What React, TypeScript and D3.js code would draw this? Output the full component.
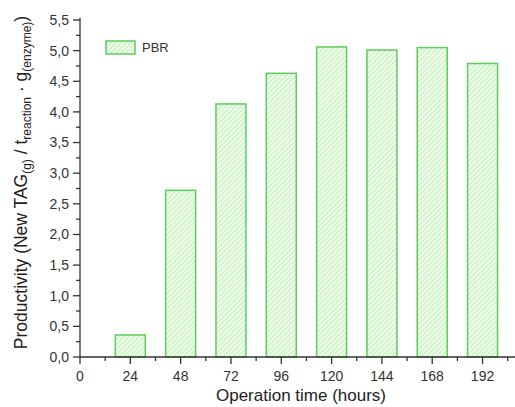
import React, { useEffect, useRef } from "react";
import * as d3 from "d3";

// Productivity per operation time (PBR)
const hours = [24, 48, 72, 96, 120, 144, 168, 192];
const productivity = [0.36, 2.72, 4.13, 4.63, 5.06, 5.01, 5.05, 4.79];
const xTicks = [0, 24, 48, 72, 96, 120, 144, 168, 192];
const yTicks = [0, 0.5, 1, 1.5, 2, 2.5, 3, 3.5, 4, 4.5, 5, 5.5];
const seriesName = "PBR";

const App = () => {
  const ref = useRef<SVGSVGElement | null>(null);

  useEffect(() => {
    const svg = d3.select(ref.current);
    svg.selectAll("*").remove();

    const left = 80, top = 20, bottom = 357, right = 514;
    const x = d3.scaleLinear().domain([0, 207]).range([left, right]);
    const y = d3.scaleLinear().domain([0, 5.5]).range([bottom, top]);
    const barW = x(14.3) - x(0);
    const green = "#5ccc5c";
    const axisCol = "#333";

    const defs = svg.append("defs");
    const pat = defs.append("pattern")
      .attr("id", "hatch")
      .attr("patternUnits", "userSpaceOnUse")
      .attr("width", 3.5)
      .attr("height", 3.5)
      .attr("patternTransform", "rotate(45)");
    pat.append("rect").attr("width", 3.5).attr("height", 3.5).attr("fill", "#ecfce8");
    pat.append("line")
      .attr("x1", 0).attr("y1", 0).attr("x2", 0).attr("y2", 3.5)
      .attr("stroke", "#b4eaa8").attr("stroke-width", 1.4);

    // bars
    svg.append("g")
      .selectAll("rect")
      .data(hours)
      .join("rect")
      .attr("x", (d) => x(d) - barW / 2)
      .attr("y", (d, i) => y(productivity[i]))
      .attr("width", barW)
      .attr("height", (d, i) => y(0) - y(productivity[i]))
      .attr("fill", "url(#hatch)")
      .attr("stroke", green)
      .attr("stroke-width", 1.5);

    // axes
    const g = svg.append("g").attr("stroke", axisCol).attr("stroke-width", 1.3);
    g.append("line").attr("x1", left).attr("x2", left).attr("y1", top - 2).attr("y2", bottom);
    g.append("line").attr("x1", left).attr("x2", right + 2).attr("y1", bottom).attr("y2", bottom);

    yTicks.forEach((t) => {
      g.append("line").attr("x1", left - 7).attr("x2", left).attr("y1", y(t)).attr("y2", y(t));
      if (t < 5.5) {
        g.append("line").attr("x1", left - 4).attr("x2", left)
          .attr("y1", y(t + 0.25)).attr("y2", y(t + 0.25));
      }
    });
    xTicks.forEach((t) => {
      g.append("line").attr("x1", x(t)).attr("x2", x(t)).attr("y1", bottom).attr("y2", bottom + 7);
      g.append("line").attr("x1", x(t + 12)).attr("x2", x(t + 12)).attr("y1", bottom).attr("y2", bottom + 4);
    });

    const font = "'Liberation Sans', Arial, sans-serif";
    svg.append("g")
      .selectAll("text")
      .data(yTicks)
      .join("text")
      .attr("x", left - 11)
      .attr("y", (d) => y(d))
      .attr("dy", "0.35em")
      .attr("text-anchor", "end")
      .attr("font-family", font)
      .attr("font-size", 14)
      .attr("fill", axisCol)
      .text((d) => d3.format(".1f")(d).replace(".", ","));

    svg.append("g")
      .selectAll("text")
      .data(xTicks)
      .join("text")
      .attr("x", (d) => x(d))
      .attr("y", bottom + 24)
      .attr("text-anchor", "middle")
      .attr("font-family", font)
      .attr("font-size", 14)
      .attr("fill", axisCol)
      .text((d) => d);

    // axis titles
    svg.append("text")
      .attr("x", (left + right) / 2 + 4)
      .attr("y", 401)
      .attr("text-anchor", "middle")
      .attr("font-family", font)
      .attr("font-size", 17)
      .attr("fill", "#222")
      .text("Operation time (hours)");

    const yl = svg.append("text")
      .attr("transform", `translate(27,${(top + bottom) / 2 - 6}) rotate(-90)`)
      .attr("text-anchor", "middle")
      .attr("font-family", font)
      .attr("font-size", 17.5)
      .attr("fill", "#222");
    yl.append("tspan").text("Productivity (New TAG");
    yl.append("tspan").attr("font-size", 12).attr("dy", 4).text("(g)");
    yl.append("tspan").attr("dy", -4).text(" / t");
    yl.append("tspan").attr("font-size", 12).attr("dy", 4).text("reaction");
    yl.append("tspan").attr("dy", -4).text(" · g");
    yl.append("tspan").attr("font-size", 12).attr("dy", 4).text("(enzyme)");
    yl.append("tspan").attr("dy", -4).text(")");

    // legend
    svg.append("rect")
      .attr("x", 106).attr("y", 41).attr("width", 29).attr("height", 13)
      .attr("fill", "url(#hatch)").attr("stroke", green).attr("stroke-width", 1.5);
    svg.append("text")
      .attr("x", 142).attr("y", 52)
      .attr("font-family", font).attr("font-size", 13).attr("fill", axisCol)
      .text(seriesName);
  }, []);

  return (
    <svg
      ref={ref}
      width={515}
      height={407}
      style={{ position: "absolute", left: 0, top: 0, background: "#fff" }}
    />
  );
};

export default App;
